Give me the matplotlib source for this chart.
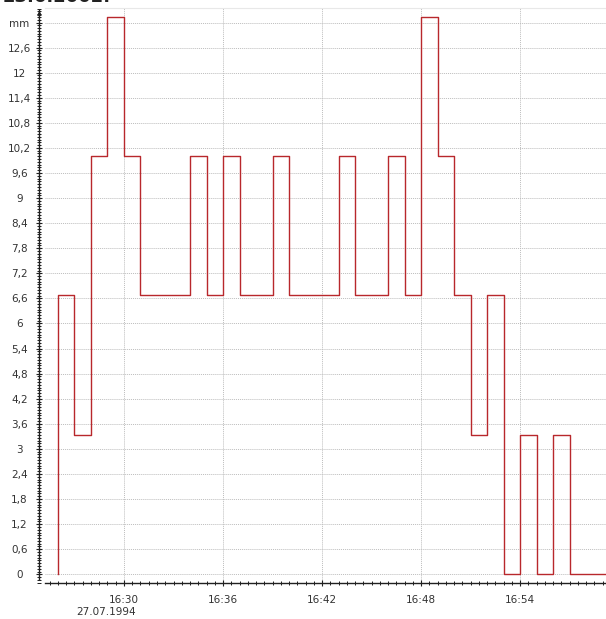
import datetime as dt
import matplotlib
matplotlib.use("Agg")
import matplotlib.pyplot as plt
import matplotlib.dates as mdates
from matplotlib.ticker import AutoMinorLocator, FixedLocator, FuncFormatter
from matplotlib.transforms import blended_transform_factory

# readings, one per minute (value covers the minute before the timestamp)
start = dt.datetime(1994, 7, 27, 16, 26)
werte = [0, 6.67, 3.33, 10, 13.33, 10, 6.67, 6.67, 6.67, 10, 6.67, 10,
         6.67, 6.67, 10, 6.67, 6.67, 6.67, 10, 6.67, 6.67, 10, 6.67, 13.33,
         10, 6.67, 3.33, 6.67, 0, 3.33, 0, 3.33, 0, 0, 0]
zeiten = [start + dt.timedelta(minutes=i) for i in range(len(werte))]

y_ticks = [round(0.6 * i, 1) for i in range(23)]
titel = "23.6.2002."
datum = "27.07.1994"

fig = plt.figure(figsize=(6.06, 6.19), dpi=100)
ax = fig.add_axes([45 / 606, 1 - 583.3 / 619, 1 - 45 / 606, (583.3 - 8) / 619])

ax.plot(zeiten, werte, drawstyle="steps-pre", color="#b8282c", lw=1.0)

t0 = dt.datetime(1994, 7, 27, 16, 30)
ax.set_xlim(t0 - dt.timedelta(minutes=4.785), t0 + dt.timedelta(minutes=29.2))
ax.set_ylim(-0.215, 13.547)

ax.xaxis.set_major_locator(mdates.MinuteLocator(byminute=range(0, 60, 6)))
ax.xaxis.set_major_formatter(mdates.DateFormatter("%H:%M"))
ax.xaxis.set_minor_locator(AutoMinorLocator(12))

def fmt(v, pos):
    if abs(v - 13.2) < 1e-6:
        return "mm"
    s = ("%.1f" % v).rstrip("0").rstrip(".")
    return s.replace(".", ",")

ax.yaxis.set_major_locator(FixedLocator(y_ticks))
ax.yaxis.set_major_formatter(FuncFormatter(fmt))
ax.yaxis.set_minor_locator(AutoMinorLocator(9))

ax.grid(True, which="major", axis="both", linestyle=(0, (1, 1)), color="#bdbdbd", lw=0.7)

ax.spines["right"].set_visible(False)
ax.spines["top"].set_color("#e8e8e8")
ax.spines["left"].set_position(("outward", 4))
ax.spines["left"].set_bounds(-0.12, 13.5)
for s in ["left", "bottom"]:
    ax.spines[s].set_color("#202020")
    ax.spines[s].set_linewidth(1.0)

ax.tick_params(axis="both", which="major", direction="inout", length=5, width=0.8,
               color="#202020", labelsize=7.5, labelcolor="#333333")
ax.tick_params(axis="both", which="minor", direction="inout", length=2.5, width=0.7,
               color="#202020")
ax.tick_params(axis="y", which="major", pad=12)
ax.tick_params(axis="x", which="major", pad=6)
for lab in ax.get_yticklabels():
    lab.set_horizontalalignment("center")

# small arrow at the top of the y axis
ax.annotate("", xy=(-4 / 72 * 100 / 561, 1.0), xytext=(-4 / 72 * 100 / 561, 0.975),
            xycoords="axes fraction",
            arrowprops=dict(arrowstyle="-|>", color="#202020", lw=0.8,
                            mutation_scale=6))

trans = blended_transform_factory(ax.transData, ax.transAxes)
ax.annotate(datum, xy=(mdates.date2num(t0), 0), xycoords=trans,
            xytext=(-13, -20.5), textcoords="offset points", ha="center",
            va="center", fontsize=7.5, color="#333333")

# title is cut off at the top edge, as in the original
fig.text(0.005, 1.0055, titel, fontsize=13, fontweight="bold", ha="left",
         va="center", color="#222222")

fig.savefig("out.png", dpi=100)
